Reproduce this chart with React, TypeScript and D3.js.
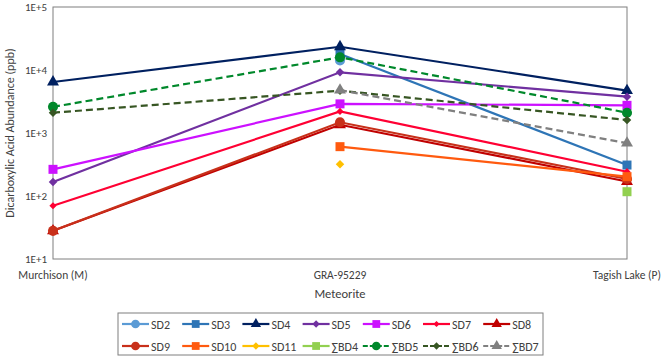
import React from "react";
import * as d3 from "d3";

const meteorites = ["Murchison (M)", "GRA-95229", "Tagish Lake (P)"];
const sd2 = [null, 14200, null];
const sd3 = [null, 18000, 310];
const sd4 = [6450, 23400, 4700];
const sd5 = [167, 9200, 3770];
const sd6 = [265, 2900, 2750];
const sd7 = [70, 2200, 243];
const sd8 = [28, 1350, 170];
const sd9 = [28, 1480, 186];
const sd10 = [null, 607, 203];
const sd11 = [null, 318, null];
const bd4 = [null, null, 117];
const bd5 = [2600, 15900, 2100];
const bd6 = [2100, 4700, 1610];
const bd7 = [null, 4800, 690];
const yTicks = [10, 100, 1000, 10000, 100000];
const yTickLabels = ["1E+1", "1E+2", "1E+3", "1E+4", "1E+5"];

type Series = {
  name: string;
  values: (number | null)[];
  color: string;
  marker: "circle" | "square" | "triangle" | "diamond" | "smalldiamond";
  dashed?: boolean;
};

const series: Series[] = [
  { name: "SD2", values: sd2, color: "#5B9BD5", marker: "circle" },
  { name: "SD3", values: sd3, color: "#2E75B6", marker: "square" },
  { name: "SD4", values: sd4, color: "#002060", marker: "triangle" },
  { name: "SD5", values: sd5, color: "#7030A0", marker: "diamond" },
  { name: "SD6", values: sd6, color: "#CC11FF", marker: "square" },
  { name: "SD7", values: sd7, color: "#FF0033", marker: "smalldiamond" },
  { name: "SD8", values: sd8, color: "#C00000", marker: "triangle" },
  { name: "SD9", values: sd9, color: "#C8301A", marker: "circle" },
  { name: "SD10", values: sd10, color: "#FF5A0F", marker: "square" },
  { name: "SD11", values: sd11, color: "#FFC000", marker: "diamond" },
  { name: "∑BD4", values: bd4, color: "#92D050", marker: "square" },
  { name: "∑BD5", values: bd5, color: "#00882B", marker: "circle", dashed: true },
  { name: "∑BD6", values: bd6, color: "#375623", marker: "diamond", dashed: true },
  { name: "∑BD7", values: bd7, color: "#808080", marker: "triangle", dashed: true },
];

const font = "Carlito, 'Liberation Sans', Arial, sans-serif";

function Marker({ kind, x, y, color, s = 1 }: { kind: Series["marker"]; x: number; y: number; color: string; s?: number }) {
  let d: string | null = null;
  let rot = 0;
  if (kind === "circle") d = d3.symbol(d3.symbolCircle, 80 * s)();
  if (kind === "square") d = d3.symbol(d3.symbolSquare, 81 * s)();
  if (kind === "triangle") d = d3.symbol(d3.symbolTriangle, 62 * s)();
  if (kind === "diamond") { d = d3.symbol(d3.symbolSquare, 36 * s)(); rot = 45; }
  if (kind === "smalldiamond") { d = d3.symbol(d3.symbolSquare, 26 * s)(); rot = 45; }
  return <path d={d || ""} fill={color} transform={`translate(${x},${y}) rotate(${rot})`} />;
}

export default function App() {
  const width = 665, height = 360;
  const left = 53, right = 627, top = 7, bottom = 259;

  const x = d3.scalePoint<string>().domain(meteorites).range([left, right]);
  const y = d3.scaleLog().domain([10, 100000]).range([bottom, top]);

  const line = d3.line<number | null>()
    .defined(d => d !== null)
    .x((_, i) => x(meteorites[i]) as number)
    .y(d => y(d as number));

  return (
    <svg width={width} height={height} style={{ position: "absolute", left: 0, top: 0, background: "#fff" }}>
      <rect x={left} y={top} width={right - left} height={bottom - top} fill="none" stroke="#7f7f7f" strokeWidth={1} />

      {yTicks.map((t, i) => (
        <text key={t} x={left - 6} y={y(t) + 4} textAnchor="end" fontFamily={font} fontSize={11} fill="#404040">
          {yTickLabels[i]}
        </text>
      ))}
      <text transform={`translate(14,${(top + bottom) / 2}) rotate(-90)`} textAnchor="middle" fontFamily={font} fontSize={12} fill="#404040">
        Dicarboxylic Acid Abundance (ppb)
      </text>

      {meteorites.map(m => (
        <text key={m} x={x(m) as number} y={279} textAnchor="middle"
          fontFamily={font} fontSize={11.5} fill="#404040">
          {m}
        </text>
      ))}
      <text x={(left + right) / 2} y={298} textAnchor="middle" fontFamily={font} fontSize={12.5} fill="#404040">Meteorite</text>

      {series.map(s => (
        <path key={s.name} d={line(s.values) || ""} fill="none" stroke={s.color} strokeWidth={2.2}
          strokeDasharray={s.dashed ? "7,4" : undefined} />
      ))}
      {series.map(s =>
        s.values.map((v, i) => v === null ? null : (
          <Marker key={s.name + i} kind={s.marker} x={x(meteorites[i]) as number} y={y(v)} color={s.color} />
        ))
      )}

      <rect x={118} y={313} width={425} height={42} fill="none" stroke="#7f7f7f" strokeWidth={1} />
      {series.map((s, i) => {
        const col = i % 7, row = Math.floor(i / 7);
        const lx = 122 + col * 60.2, ly = 324 + row * 22;
        return (
          <g key={s.name}>
            <line x1={lx} x2={lx + 27} y1={ly} y2={ly} stroke={s.color} strokeWidth={2.2}
              strokeDasharray={s.dashed ? "5,2" : undefined} />
            <Marker kind={s.marker} x={lx + 13.5} y={ly} color={s.color} s={0.75} />
            <text x={lx + 29} y={ly + 4.5} fontFamily={font} fontSize={12} fill="#404040">{s.name}</text>
          </g>
        );
      })}
    </svg>
  );
}
